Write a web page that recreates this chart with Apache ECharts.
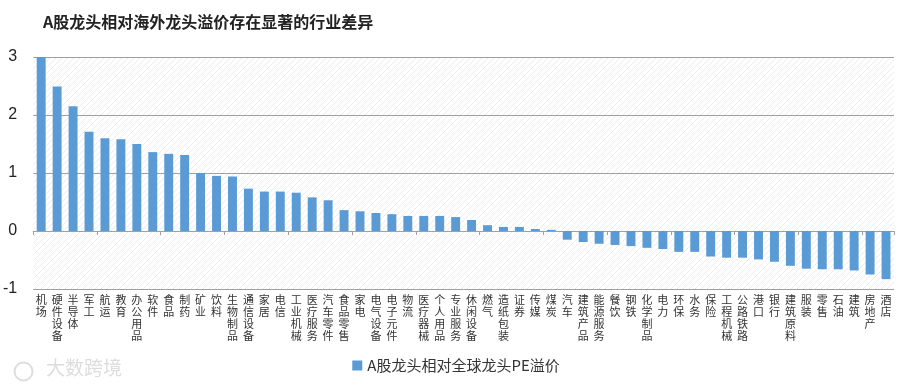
<!DOCTYPE html>
<html><head><meta charset="utf-8">
<script src="https://cdn.jsdelivr.net/npm/echarts@6/dist/echarts.min.js"></script>
<style>html,body{margin:0;padding:0;background:#fff}#c{width:912px;height:386px}</style>
</head><body><div id="c"></div>
<script>
const categories = ['机场','硬件设备','半导体','军工','航运','教育','办公用品','软件','食品','制药','矿业','饮料','生物制品','通信设备','家居','电信','工业机械','医疗服务','汽车零件','食品零售','家电','电气设备','电子元件','物流','医疗器械','个人用品','专业服务','休闲设备','燃气','造纸包装','证券','传媒','煤炭','汽车','建筑产品','能源服务','餐饮','钢铁','化学制品','电力','环保','水务','保险','工程机械','公路铁路','港口','银行','建筑原料','服装','零售','石油','建筑','房地产','酒店'];
const premium = [3.0,2.49,2.15,1.71,1.60,1.58,1.50,1.36,1.33,1.31,1.00,0.95,0.94,0.73,0.68,0.68,0.66,0.58,0.53,0.36,0.34,0.31,0.29,0.26,0.26,0.26,0.24,0.19,0.10,0.07,0.07,0.035,0.02,-0.15,-0.19,-0.22,-0.24,-0.26,-0.29,-0.31,-0.36,-0.36,-0.44,-0.46,-0.46,-0.49,-0.53,-0.60,-0.65,-0.66,-0.66,-0.68,-0.75,-0.83];
const yTicks = {min:-1, max:3, interval:1};
const titleText = 'A股龙头相对海外龙头溢价存在显著的行业差异';
const seriesName = 'A股龙头相对全球龙头PE溢价';

const pc = document.createElement('canvas');
pc.width = 6; pc.height = 6;
const g = pc.getContext('2d');
g.fillStyle = '#ffffff'; g.fillRect(0,0,6,6);
g.strokeStyle = '#ececec'; g.lineWidth = 1;
g.beginPath(); g.moveTo(0,6); g.lineTo(6,0); g.stroke();
g.beginPath(); g.moveTo(-1,1); g.lineTo(1,-1); g.stroke();
g.beginPath(); g.moveTo(5,7); g.lineTo(7,5); g.stroke();

const chart = echarts.init(document.getElementById('c'));
const cjk = '"Noto Sans CJK SC", sans-serif';
chart.setOption({
  animation:false,
  title:{text:titleText,left:38,top:9,textStyle:{fontFamily:cjk,fontSize:16,fontWeight:'bold',color:'#222'}},
  grid:{left:30,right:18,top:57,bottom:97,show:true,borderWidth:0,backgroundColor:{image:pc,repeat:'repeat'}},
  legend:{bottom:8,left:'center',itemWidth:10,itemHeight:10,icon:'rect',textStyle:{fontFamily:cjk,fontSize:15,color:'#333'},data:[seriesName]},
  xAxis:[{
    type:'category',data:categories,position:'bottom',
    axisLine:{show:false,onZero:false},axisTick:{show:false},
    axisLabel:{interval:0,margin:5,fontFamily:cjk,fontSize:11,lineHeight:12,color:'#333',verticalAlign:'top',
      formatter:v=>v.split('').join('\n')}
  },{
    type:'category',data:categories,position:'bottom',
    axisLine:{show:true,onZero:true,lineStyle:{color:'#a0a0a0',width:1}},
    axisTick:{show:true,length:4,lineStyle:{color:'#a0a0a0'}},
    axisLabel:{show:false}
  }],
  yAxis:{type:'value',min:yTicks.min,max:yTicks.max,interval:yTicks.interval,
    axisLine:{show:false},axisTick:{show:false},
    axisLabel:{fontFamily:'"Liberation Sans", sans-serif',fontSize:16,color:'#222',margin:16},
    splitLine:{lineStyle:{color:'#a0a0a0',width:1}}},
  graphic:[
    {type:'circle',left:12,top:360,shape:{r:9},style:{fill:'none',stroke:'#dddddd',lineWidth:2}},
    {type:'text',left:46,top:358,style:{text:'大数跨境',fontFamily:cjk,fontSize:19,fill:'#dddddd'}}
  ],
  series:[{name:seriesName,type:'bar',xAxisIndex:0,data:premium,barWidth:'56%',itemStyle:{color:'#5B9BD5'}}]
});
</script></body></html>
